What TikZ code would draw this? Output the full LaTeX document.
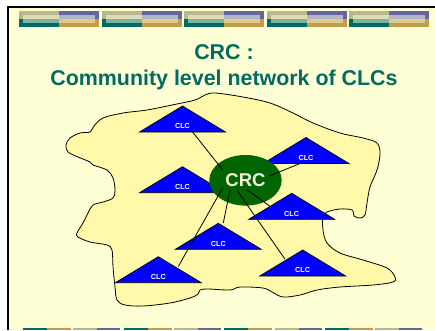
\documentclass[tikz,border=0pt]{standalone}
\usepackage{fontspec}
\setmainfont{Liberation Sans}
\usetikzlibrary{shapes.geometric}
\definecolor{mslide}{HTML}{FFFFD5}
\definecolor{mland}{HTML}{FFF9A9}
\definecolor{mteal}{HTML}{006B63}
\definecolor{mteallt}{HTML}{7EB39E}
\definecolor{mgold}{HTML}{C29E4C}
\definecolor{mgoldlt}{HTML}{DECC8E}
\definecolor{mkhaki}{HTML}{B8B88F}
\definecolor{mkhakilt}{HTML}{DDDDB5}
\definecolor{mpurp}{HTML}{66669E}
\definecolor{mpurplt}{HTML}{B4B4C7}
\definecolor{mgreen}{HTML}{006400}
\definecolor{mcream}{HTML}{F2F2D8}
\tikzstyle{heading} = [anchor=base, inner sep=0pt, text=mteal, font=\bfseries\fontsize{21.4}{25.7}\selectfont]
\tikzstyle{hub} = [ellipse, minimum width=72.4pt, minimum height=50.6pt, inner sep=0pt, fill=mgreen, text=mcream, font=\bfseries\fontsize{18.5}{20}\selectfont]
\tikzstyle{cell} = [fill=blue, draw=black, line width=0.7pt, line join=miter]
\tikzstyle{clc} = [inner sep=0pt, text=white, font=\bfseries\fontsize{7.3}{8}\selectfont]
\tikzstyle{land} = [fill=mland, draw=black, line width=0.8pt]
\tikzstyle{link} = [line width=0.8pt]

\begin{document}
\begin{tikzpicture}[x=1pt, y=-1pt]
  \useasboundingbox (0,0) rectangle (435,330);
  \fill[white] (0,0) rectangle (435,330);
  \fill[mslide] (8,7) rectangle (435,330);
  \draw[line width=2.3pt] (8,330) -- (8,7.2) -- (435,7.2);
  % banner
  \foreach \i in {0,...,4}{
    \begin{scope}[xshift=\i*82.5]
      \fill[mkhaki] (19,11) rectangle (59,19);
      \fill[mpurp] (59,11) rectangle (99,19);
      \fill[mteal] (19,19) rectangle (59,27);
      \fill[mgold] (59,19) rectangle (99,27);
      \fill[mkhakilt] (23,15) rectangle (59,19);
      \fill[mpurplt] (59,15) rectangle (95,19);
      \fill[mteallt] (23,19) rectangle (59,23);
      \fill[mgoldlt] (59,19) rectangle (95,23);
    \end{scope}
  }
  \foreach \i in {0,2,4,6}{
    \fill[mteal] (23+50.3*\i,328) rectangle ++(24,2);
    \fill[mgold] (47+50.3*\i,328) rectangle ++(24,2);
  }
  \foreach \i in {1,3,5,7}{
    \fill[mkhaki] (23+50.3*\i,328) rectangle ++(24,2);
    \fill[mpurp] (47+50.3*\i,328) rectangle ++(23,2);
  }
  % title
  \node (title) [heading] at (224,59.3) {CRC :};
  \node (subtitle) [heading] at (224,85) {Community level network of CLCs};
  % community area
  \draw[land] plot[smooth cycle, tension=0.55] coordinates {
    (215,93) (243,97) (270,103) (293,113) (313,123) (340,133) (363,138)
    (377,143) (380,154) (377,170) (370,187) (367,203) (365,215) (360,218)
    (354,216) (352,210) (340,209) (327,212) (323,217) (323,230) (327,243)
    (340,253) (363,260) (387,268) (395,277) (393,282) (373,285) (340,287)
    (317,290) (300,295) (283,297) (272,292) (263,288) (240,287) (230,290)
    (208,289) (200,290) (198,294) (190,298) (170,303) (143,306) (125,305)
    (117,300) (115,287) (113,267) (112,250) (107,245) (90,242) (78,237)
    (77,233) (83,223) (88,213) (93,205) (103,202) (113,198) (115,190)
    (113,178) (107,170) (93,165) (90,162) (78,157) (68,152) (66,145)
    (70,138) (80,133) (90,132) (94,126) (103,118) (123,113) (147,110)
    (172,105) (195,100) (205,95)};
  % CLCs
  \foreach \name/\x/\y in {t1/182.5/106, t2/182.5/166.7, t3/306/137.5,
      t4/291.7/193.3, t5/218.3/223.3, t6/158.3/256.7, t7/302.7/250}{
    \filldraw[cell] (\x,\y) -- ++(43,26) -- ++(-86,0) -- cycle;
    \node (\name) [clc] at (\x,\y+20.2) {CLC};
  }
  % CRC
  \node (crc) [hub] at (245.5,180.3) {CRC};
  \draw[link] ([shift={(-22.8,-10.3)}]crc.center) -- ([shift={(10,5.7)}]t1.center);
  \draw[link] ([shift={(23.8,-4.3)}]crc.center) -- ([shift={(-6,5.8)}]t3.center);
  \draw[link] ([shift={(1.8,9.7)}]crc.center) -- ([shift={(-20,-6)}]t4.center);
  \draw[link] ([shift={(-15.5,9.7)}]crc.center) -- ([shift={(5,-20.6)}]t5.center);
  \draw[link] ([shift={(-22.8,7.4)}]crc.center) -- ([shift={(20,-10.4)}]t6.center);
  \draw[link] ([shift={(-8.2,10.4)}]crc.center) -- ([shift={(-17.7,-11)}]t7.center);
\end{tikzpicture}
\end{document}
